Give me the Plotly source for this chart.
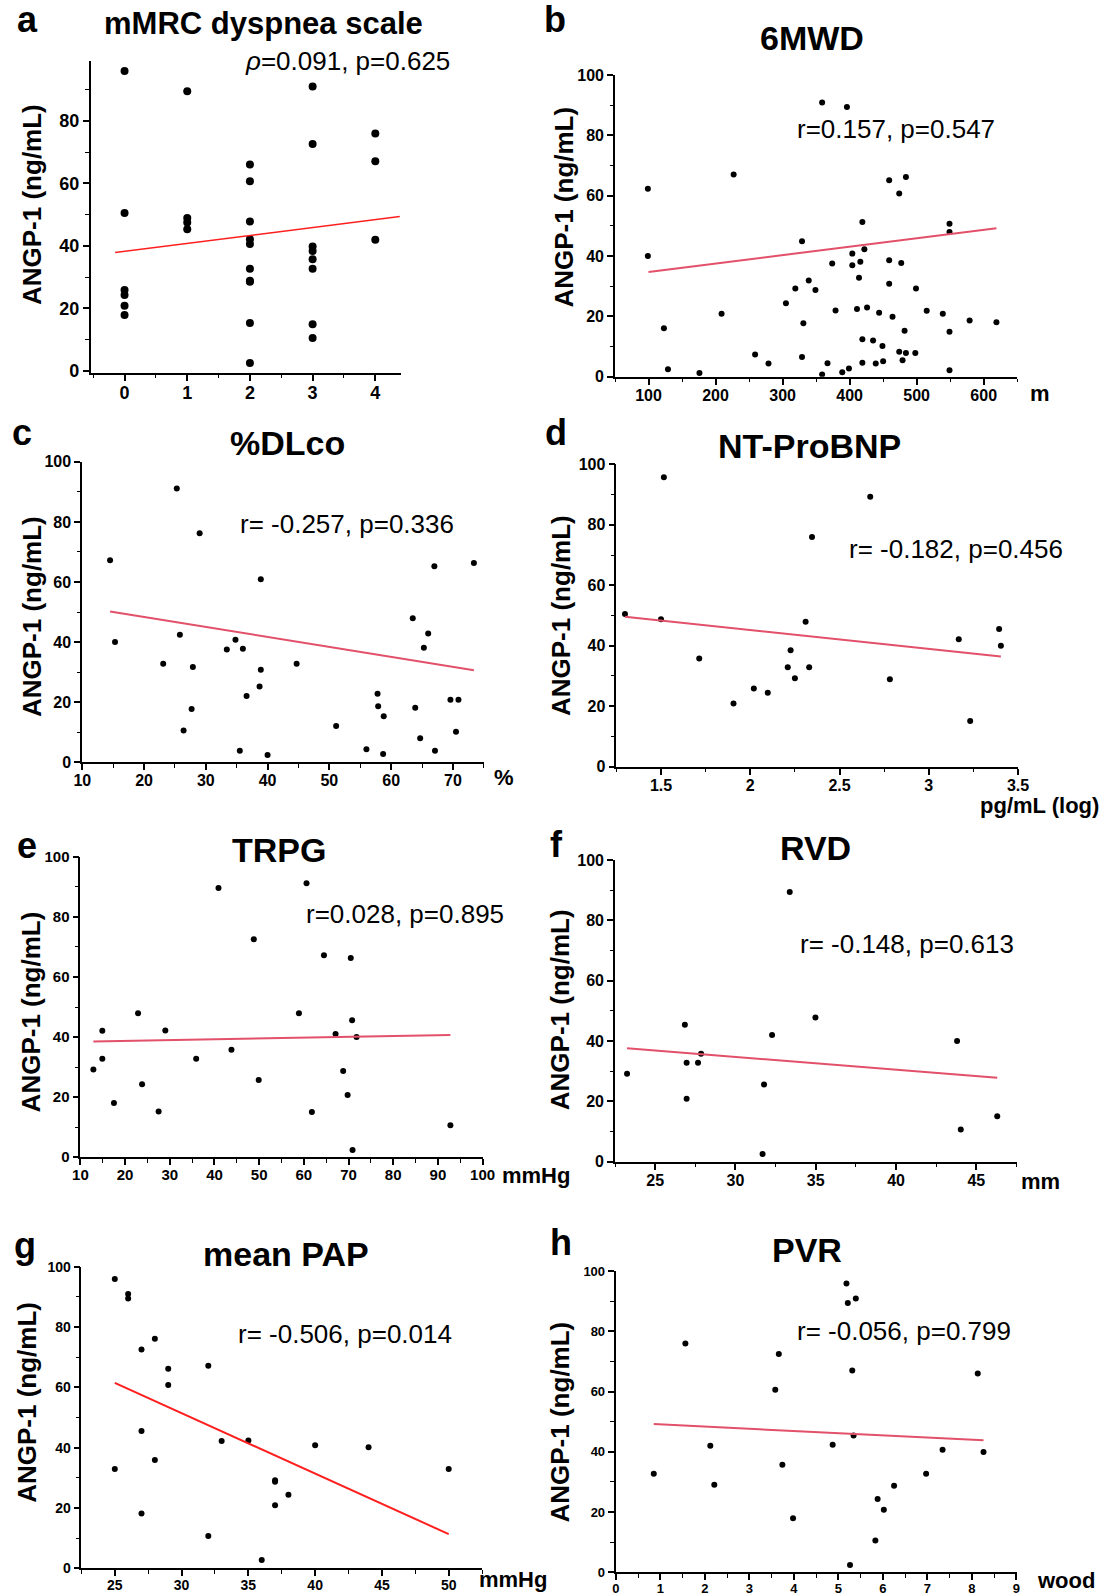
import plotly.graph_objects as go

W, H = 1112, 1595
FONT = "Liberation Sans, Arial, sans-serif"

# a - mMRC dyspnea scale
mmrc_x = [0, 0, 0, 0, 0, 0, 1, 1, 1, 1, 2, 2, 2, 2, 2, 2, 2, 2, 2, 2,
          3, 3, 3, 3, 3, 3, 3, 3, 4, 4, 4]
mmrc_y = [96, 50.5, 25.9, 24.3, 20.8, 17.9, 89.5, 48.9, 47.5, 45.3,
          66.1, 60.7, 47.8, 42.1, 40.6, 32.7, 28.8, 28.5, 15.3, 2.5,
          91, 72.6, 39.8, 38.4, 35.7, 32.7, 14.9, 10.5, 76, 67.1, 42]
mmrc_fit_x = [-0.15, 4.39]
mmrc_fit_y = [37.9, 49.4]

# b - 6MWD
mwd_x = [99, 99, 123, 129, 176, 209, 227, 259, 279, 305, 319, 329, 329, 331,
         339, 349, 359, 359, 367, 374, 379, 389, 396, 399, 404, 404, 411, 414,
         416, 419, 419, 419, 422, 426, 435, 439, 444, 449, 450, 459, 459, 459,
         464, 474, 474, 477, 479, 482, 484, 484, 499, 498, 515, 539, 549, 549,
         549, 549, 579, 619]
mwd_y = [62.3, 40, 16, 2.4, 1.2, 20.8, 67, 7.3, 4.3, 24.3, 29.2, 44.9, 6.5,
         17.7, 31.9, 28.7, 90.9, 0.7, 4.4, 37.5, 21.9, 1.4, 89.4, 2.7, 40.8,
         36.9, 22.4, 32.8, 38.1, 51.3, 12.4, 4.6, 42.2, 22.9, 12, 4.3, 21.2,
         10.1, 5.1, 65.1, 38.6, 30.8, 19.8, 60.7, 8.2, 37.7, 5.4, 15.2, 66.2,
         7.8, 29.2, 7.8, 21.8, 20.8, 50.7, 48, 14.9, 2.1, 18.6, 18]
mwd_fit_x = [100, 619]
mwd_fit_y = [34.7, 49.2]

# c - %DLco
dlco_x = [14.5, 15.3, 23.1, 25.3, 25.8, 26.4, 27.7, 27.9, 29, 33.4, 34.8, 35.5,
          36, 36.6, 38.7, 38.9, 38.9, 40, 44.7, 51.1, 56, 57.8, 57.9, 58.7,
          58.8, 63.5, 63.9, 64.7, 65.3, 66, 67, 67.1, 69.6, 70.5, 70.9, 73.4]
dlco_y = [67.2, 40, 32.8, 91.1, 42.4, 10.5, 17.7, 31.7, 76.2, 37.5, 40.8, 3.8,
          37.8, 22, 25.2, 60.9, 30.8, 2.4, 32.8, 12, 4.3, 22.8, 18.6, 2.7,
          15.3, 47.9, 18.1, 8, 38.1, 42.8, 65.2, 3.8, 20.8, 10.1, 20.8, 66.3]
dlco_fit_x = [14.5, 73.4]
dlco_fit_y = [50.2, 30.6]

# d - NT-ProBNP
bnp_x = [1.298, 1.5, 1.516, 1.714, 1.906, 2.02, 2.098, 2.21, 2.226, 2.25, 2.31,
         2.33, 2.346, 2.672, 2.782, 3.168, 3.232, 3.394, 3.404]
bnp_y = [50.5, 48.8, 95.8, 35.8, 20.9, 25.8, 24.4, 32.9, 38.5, 29.2, 47.9,
         32.9, 76, 89.3, 28.9, 42.1, 15.1, 45.5, 40]
bnp_fit_x = [1.298, 3.404]
bnp_fit_y = [49.6, 36.4]

# e - TRPG
trpg_x = [12.9, 14.9, 14.9, 17.5, 22.9, 23.8, 27.5, 29, 35.9, 40.9, 43.8, 48.8,
          49.9, 58.9, 60.6, 61.8, 64.5, 67.1, 68.8, 69.8, 70.5, 70.8, 70.9,
          71.8, 92.8]
trpg_y = [29.2, 42.1, 32.8, 18, 47.9, 24.3, 15.2, 42.2, 32.8, 89.6, 35.8, 72.6,
          25.7, 47.9, 91.2, 15, 67.2, 41, 28.7, 20.7, 66.3, 45.6, 2.4, 40, 10.6]
trpg_fit_x = [12.9, 92.8]
trpg_fit_y = [38.5, 40.7]

# f - RVD
rvd_x = [23.25, 26.85, 26.96, 26.96, 27.67, 27.86, 31.69, 31.78, 32.28, 33.38,
         34.98, 43.8, 44.03, 46.3]
rvd_y = [29.1, 45.4, 32.8, 20.8, 32.8, 35.8, 2.5, 25.6, 42, 89.4, 47.8, 40,
         10.6, 15]
rvd_fit_x = [23.25, 46.3]
rvd_fit_y = [37.6, 27.8]

# g - mean PAP
pap_x = [25, 25, 26, 26, 27, 27, 27, 28, 28, 29, 29, 32, 32, 33, 35, 36, 37,
         37, 37, 38, 40, 44, 50]
pap_y = [96, 32.9, 91, 89.5, 72.6, 45.5, 18.1, 76.1, 35.9, 66.2, 60.8, 67.2,
         10.7, 42.2, 42.4, 2.7, 29.2, 28.7, 20.9, 24.4, 40.8, 40.1, 32.9]
pap_fit_x = [25, 50]
pap_fit_y = [61.5, 11.3]

# h - PVR
pvr_x = [0.85, 1.56, 2.12, 2.21, 3.58, 3.66, 3.74, 3.98, 4.87, 5.18, 5.21, 5.26,
         5.31, 5.34, 5.39, 5.83, 5.88, 6.02, 6.25, 6.97, 7.34, 8.13, 8.26]
pvr_y = [32.7, 76, 42, 29, 60.6, 72.5, 35.7, 17.9, 42.3, 95.9, 89.4, 2.4, 67,
         45.4, 90.9, 10.5, 24.3, 20.7, 28.7, 32.7, 40.7, 66, 39.9]
pvr_fit_x = [0.85, 8.26]
pvr_fit_y = [49.2, 43.8]

RED = "#ff1f1f"
PINK = "#e2506a"

panels = [
    dict(letter="a", title="mMRC dyspnea scale", stat="<i>ρ</i>=0.091, p=0.625", unit="",
         x=mmrc_x, y=mmrc_y, fx=mmrc_fit_x, fy=mmrc_fit_y, color=RED, lw=1.5, ms=8,
         box=(90.7, 61, 401, 373), xr=[-0.54, 4.41], yr=[-0.7, 99.2],
         xd=(0, 1, 0.5), fs=18, xfs=18,
         pos_letter=(27, 20), pos_title=(263, 24, 31), pos_stat=(243, 61),
         pos_unit=None, pos_ytitle=(32, 205)),
    dict(letter="b", title="6MWD", stat="r=0.157, p=0.547", unit="m",
         x=mwd_x, y=mwd_y, fx=mwd_fit_x, fy=mwd_fit_y, color=PINK, lw=2, ms=6,
         box=(615, 75, 1017.2, 376.7), xr=[50, 650], yr=[-0.05, 100.05],
         xd=(0, 100, 50), fs=16, xfs=16,
         pos_letter=(555, 20), pos_title=(812, 38, 34), pos_stat=(795, 129),
         pos_unit=(1040, 393), pos_ytitle=(563.6, 207)),
    dict(letter="c", title="%DLco", stat="r= -0.257, p=0.336", unit="%",
         x=dlco_x, y=dlco_y, fx=dlco_fit_x, fy=dlco_fit_y, color=PINK, lw=2, ms=6,
         box=(82.1, 461.7, 484.4, 762.3), xr=[9.97, 75.1], yr=[-0.05, 100.05],
         xd=(0, 10, 5), fs=16, xfs=16,
         pos_letter=(22, 432), pos_title=(287.3, 443, 34), pos_stat=(238.3, 524),
         pos_unit=(503.6, 778), pos_ytitle=(32, 617)),
    dict(letter="d", title="NT-ProBNP", stat="r= -0.182, p=0.456", unit="pg/mL (log)",
         x=bnp_x, y=bnp_y, fx=bnp_fit_x, fy=bnp_fit_y, color=PINK, lw=2, ms=6,
         box=(616.4, 464.3, 1018.2, 766.7), xr=[1.25, 3.501], yr=[-0.05, 100.05],
         xd=(0, 0.5, 0.25), fs=16, xfs=16,
         pos_letter=(555.7, 432), pos_title=(809.3, 446, 34), pos_stat=(846.8, 549),
         pos_unit=(1039, 806), pos_ytitle=(561, 616)),
    dict(letter="e", title="TRPG", stat="r=0.028, p=0.895", unit="mmHg",
         x=trpg_x, y=trpg_y, fx=trpg_fit_x, fy=trpg_fit_y, color=PINK, lw=2, ms=6,
         box=(80.3, 856.7, 482.7, 1157.3), xr=[9.97, 100.03], yr=[-0.05, 100.05],
         xd=(0, 10, 5), fs=15, xfs=15,
         pos_letter=(26.6, 845), pos_title=(279.3, 850, 34), pos_stat=(304.1, 914),
         pos_unit=(536.4, 1175), pos_ytitle=(31.4, 1012)),
    dict(letter="f", title="RVD", stat="r= -0.148, p=0.613", unit="mm",
         x=rvd_x, y=rvd_y, fx=rvd_fit_x, fy=rvd_fit_y, color=PINK, lw=2, ms=6,
         box=(615, 860, 1016.5, 1161.7), xr=[22.5, 47.5], yr=[-0.05, 100.05],
         xd=(0, 5, 2.5), fs=16, xfs=16,
         pos_letter=(556.8, 844), pos_title=(815.4, 848, 34), pos_stat=(797.8, 944),
         pos_unit=(1040.9, 1181), pos_ytitle=(560.2, 1010)),
    dict(letter="g", title="mean PAP", stat="r= -0.506, p=0.014", unit="mmHg",
         x=pap_x, y=pap_y, fx=pap_fit_x, fy=pap_fit_y, color=RED, lw=2, ms=6,
         box=(81.4, 1266.7, 482.1, 1568.3), xr=[22.5, 52.5], yr=[-0.05, 100.05],
         xd=(0, 5, 2.5), fs=14, xfs=14,
         pos_letter=(25, 1245), pos_title=(285.7, 1254, 34), pos_stat=(235.7, 1334),
         pos_unit=(512.5, 1579), pos_ytitle=(26.8, 1402)),
    dict(letter="h", title="PVR", stat="r= -0.056, p=0.799", unit="wood",
         x=pvr_x, y=pvr_y, fx=pvr_fit_x, fy=pvr_fit_y, color=PINK, lw=2, ms=6,
         box=(615.5, 1271, 1016.9, 1572.3), xr=[-0.01, 9.01], yr=[-0.05, 100.05],
         xd=(0, 1, 0.5), fs=13, xfs=13,
         pos_letter=(561.3, 1242), pos_title=(807.2, 1250, 34), pos_stat=(794.5, 1331),
         pos_unit=(1066.4, 1580), pos_ytitle=(559.5, 1422)),
]


def px(x):
    return x / W


def py(y):
    return 1 - y / H


fig = go.Figure()
layout = {}
annotations = []

for i, p in enumerate(panels, start=1):
    sfx = "" if i == 1 else str(i)
    xa, ya = "x" + sfx, "y" + sfx
    x0, y0, x1, y1 = p["box"]

    fig.add_trace(go.Scatter(
        x=p["x"], y=p["y"], mode="markers", xaxis=xa, yaxis=ya,
        marker=dict(color="black", size=p["ms"]), hoverinfo="skip",
    ))
    fig.add_trace(go.Scatter(
        x=p["fx"], y=p["fy"], mode="lines", xaxis=xa, yaxis=ya,
        line=dict(color=p["color"], width=p["lw"]), hoverinfo="skip",
    ))

    common = dict(
        showline=True, linecolor="black", linewidth=1.6,
        ticks="outside", ticklen=6, tickwidth=1.5, tickcolor="black",
        showgrid=False, zeroline=False, fixedrange=True, automargin=False,
    )
    t0, dt, mdt = p["xd"]
    layout["xaxis" + sfx] = dict(
        common, domain=[px(x0), px(x1)], range=p["xr"], anchor=ya,
        tickmode="linear", tick0=t0, dtick=dt, ticklabelstandoff=-3,
        minor=dict(ticks="outside", ticklen=3.5, tickwidth=1.3, tickcolor="black",
                   tick0=t0, dtick=mdt, showgrid=False),
        tickfont=dict(family=FONT, size=p["xfs"], color="black", weight="bold"),
    )
    layout["yaxis" + sfx] = dict(
        common, domain=[py(y1), py(y0)], range=p["yr"], anchor=xa,
        tickmode="linear", tick0=0, dtick=20,
        minor=dict(ticks="outside", ticklen=3.5, tickwidth=1.3, tickcolor="black",
                   tick0=0, dtick=10, showgrid=False),
        tickfont=dict(family=FONT, size=p["fs"], color="black", weight="bold"),
    )

    lx, ly = p["pos_letter"]
    annotations.append(dict(
        text=p["letter"], x=px(lx), y=py(ly), xref="paper", yref="paper",
        xanchor="center", yanchor="middle", showarrow=False,
        font=dict(family=FONT, size=36, color="black", weight="bold"),
    ))
    tx, ty, tfs = p["pos_title"]
    annotations.append(dict(
        text=p["title"], x=px(tx), y=py(ty), xref="paper", yref="paper",
        xanchor="center", yanchor="middle", showarrow=False,
        font=dict(family=FONT, size=tfs, color="black", weight="bold"),
    ))
    sx, sy = p["pos_stat"]
    annotations.append(dict(
        text=p["stat"], x=px(sx), y=py(sy), xref="paper", yref="paper",
        xanchor="left", yanchor="middle", showarrow=False,
        font=dict(family=FONT, size=26, color="black"),
    ))
    if p["pos_unit"]:
        ux, uy = p["pos_unit"]
        annotations.append(dict(
            text=p["unit"], x=px(ux), y=py(uy), xref="paper", yref="paper",
            xanchor="center", yanchor="middle", showarrow=False,
            font=dict(family=FONT, size=22, color="black", weight="bold"),
        ))
    yx, yy = p["pos_ytitle"]
    annotations.append(dict(
        text="ANGP-1 (ng/mL)", x=px(yx), y=py(yy), xref="paper", yref="paper",
        xanchor="center", yanchor="middle", showarrow=False, textangle=-90,
        font=dict(family=FONT, size=26, color="black", weight="bold"),
    ))

fig.update_layout(
    width=W, height=H,
    margin=dict(l=0, r=0, t=0, b=0, autoexpand=False),
    paper_bgcolor="white", plot_bgcolor="white",
    showlegend=False,
    annotations=annotations,
    **layout,
)

# drop the default 8px page margin so the figure sits at the window origin
fig.write_html(
    "out.html",
    config={"displayModeBar": False},
    post_script="document.body.style.margin='0';",
)
